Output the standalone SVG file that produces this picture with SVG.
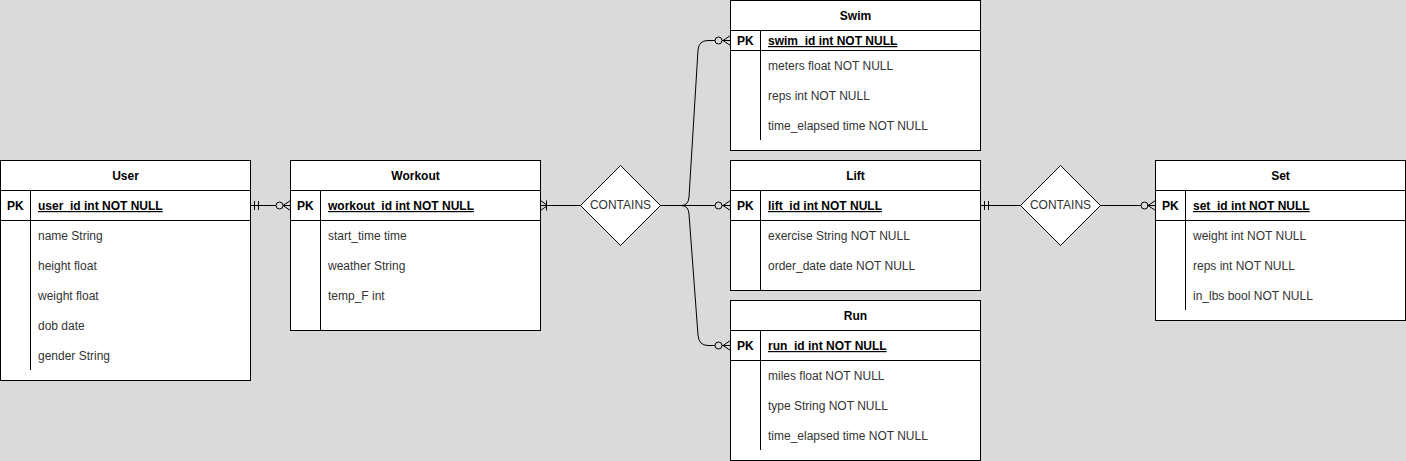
<svg xmlns="http://www.w3.org/2000/svg" width="1406" height="461" viewBox="0 0 1406 461">
<style>
.box{fill:#fff;stroke:#000;stroke-width:1}
.ln{fill:none;stroke:#000;stroke-width:1}
.t{font-family:"Liberation Sans",Arial,sans-serif;font-size:12px;fill:#000}
.b{font-weight:bold}
.c{text-anchor:middle}
.u{text-decoration:underline}
.a{fill:#333}
</style>
<rect x="0" y="0" width="1406" height="461" fill="#dadada"/>

<g id="user">
<rect class="box" x="0.5" y="160.5" width="250" height="220"/>
<line class="ln" x1="0.5" y1="190.5" x2="250.5" y2="190.5"/>
<line class="ln" x1="0.5" y1="220.5" x2="250.5" y2="220.5"/>
<line class="ln" x1="30.5" y1="190.5" x2="30.5" y2="370"/>
<text class="t b c" x="125.5" y="180">User</text>
<text class="t b" x="7" y="210">PK</text>
<text class="t b u" x="38" y="210">user_id int NOT NULL</text>
<text class="t a" x="38" y="240">name String</text>
<text class="t a" x="38" y="270">height float</text>
<text class="t a" x="38" y="300">weight float</text>
<text class="t a" x="38" y="330">dob date</text>
<text class="t a" x="38" y="360">gender String</text>
</g>

<g id="workout">
<rect class="box" x="290.5" y="160.5" width="250" height="170"/>
<line class="ln" x1="290.5" y1="190.5" x2="540.5" y2="190.5"/>
<line class="ln" x1="290.5" y1="220.5" x2="540.5" y2="220.5"/>
<line class="ln" x1="320.5" y1="190.5" x2="320.5" y2="330.5"/>
<text class="t b c" x="415.5" y="180">Workout</text>
<text class="t b" x="297" y="210">PK</text>
<text class="t b u" x="328" y="210">workout_id int NOT NULL</text>
<text class="t a" x="328" y="240">start_time time</text>
<text class="t a" x="328" y="270">weather String</text>
<text class="t a" x="328" y="300">temp_F int</text>
</g>

<g id="contains1">
<polygon class="box" points="620.5,165.5 660.5,205.5 620.5,245.5 580.5,205.5"/>
<text class="t c a" x="620.5" y="209">CONTAINS</text>
</g>

<g id="swim">
<rect class="box" x="730.5" y="0.5" width="250" height="150"/>
<line class="ln" x1="730.5" y1="30.5" x2="980.5" y2="30.5"/>
<line class="ln" x1="730.5" y1="50.5" x2="980.5" y2="50.5"/>
<line class="ln" x1="760.5" y1="30.5" x2="760.5" y2="140"/>
<text class="t b c" x="855.5" y="20">Swim</text>
<text class="t b" x="737" y="45">PK</text>
<text class="t b u" x="768" y="45">swim_id int NOT NULL</text>
<text class="t a" x="768" y="70">meters float NOT NULL</text>
<text class="t a" x="768" y="100">reps int NOT NULL</text>
<text class="t a" x="768" y="130">time_elapsed time NOT NULL</text>
</g>

<g id="lift">
<rect class="box" x="730.5" y="160.5" width="250" height="130"/>
<line class="ln" x1="730.5" y1="190.5" x2="980.5" y2="190.5"/>
<line class="ln" x1="730.5" y1="220.5" x2="980.5" y2="220.5"/>
<line class="ln" x1="760.5" y1="190.5" x2="760.5" y2="290.5"/>
<text class="t b c" x="855.5" y="180">Lift</text>
<text class="t b" x="737" y="210">PK</text>
<text class="t b u" x="768" y="210">lift_id int NOT NULL</text>
<text class="t a" x="768" y="240">exercise String NOT NULL</text>
<text class="t a" x="768" y="270">order_date date NOT NULL</text>
</g>

<g id="run">
<rect class="box" x="730.5" y="300.5" width="250" height="160"/>
<line class="ln" x1="730.5" y1="330.5" x2="980.5" y2="330.5"/>
<line class="ln" x1="730.5" y1="360.5" x2="980.5" y2="360.5"/>
<line class="ln" x1="760.5" y1="330.5" x2="760.5" y2="450"/>
<text class="t b c" x="855.5" y="320">Run</text>
<text class="t b" x="737" y="350">PK</text>
<text class="t b u" x="768" y="350">run_id int NOT NULL</text>
<text class="t a" x="768" y="380">miles float NOT NULL</text>
<text class="t a" x="768" y="410">type String NOT NULL</text>
<text class="t a" x="768" y="440">time_elapsed time NOT NULL</text>
</g>

<g id="contains2">
<polygon class="box" points="1060.5,165.5 1100.5,205.5 1060.5,245.5 1020.5,205.5"/>
<text class="t c a" x="1060.5" y="209">CONTAINS</text>
</g>

<g id="set">
<rect class="box" x="1155.5" y="160.5" width="250" height="160"/>
<line class="ln" x1="1155.5" y1="190.5" x2="1405.5" y2="190.5"/>
<line class="ln" x1="1155.5" y1="220.5" x2="1405.5" y2="220.5"/>
<line class="ln" x1="1185.5" y1="190.5" x2="1185.5" y2="310"/>
<text class="t b c" x="1280.5" y="180">Set</text>
<text class="t b" x="1162" y="210">PK</text>
<text class="t b u" x="1193" y="210">set_id int NOT NULL</text>
<text class="t a" x="1193" y="240">weight int NOT NULL</text>
<text class="t a" x="1193" y="270">reps int NOT NULL</text>
<text class="t a" x="1193" y="300">in_lbs bool NOT NULL</text>
</g>

<g id="connectors" class="ln">
<!-- User - Workout -->
<path class="ln" d="M250.5,205.5 L276,205.5"/>
<path class="ln" d="M254.5,201 V210 M258.5,201 V210"/>
<circle class="ln" cx="279.5" cy="205.5" r="3.5"/>
<path class="ln" d="M290.5,200.5 L283,205.5 L290.5,210.5 M283,205.5 H290.5"/>
<!-- Workout - Contains1 -->
<path class="ln" d="M540.5,205.5 L580.5,205.5"/>
<path class="ln" d="M540.5,200.5 L547.5,205.5 L540.5,210.5 M546.5,200.5 V210.5"/>
<!-- Contains1 - Swim -->
<path class="ln" d="M660.5,205.5 H681 Q688.5,205.5 689,197 L698,50 Q698.8,40.5 708,40.5 H715"/>
<circle class="ln" cx="718.5" cy="40.5" r="3.5"/>
<path class="ln" d="M730.5,35.5 L723,40.5 L730.5,45.5 M722,40.5 H730.5"/>
<!-- Contains1 - Lift -->
<path class="ln" d="M660.5,205.5 H715"/>
<circle class="ln" cx="718.5" cy="205.5" r="3.5"/>
<path class="ln" d="M730.5,200.5 L723,205.5 L730.5,210.5 M722,205.5 H730.5"/>
<!-- Contains1 - Run -->
<path class="ln" d="M660.5,205.5 H681 Q688.5,205.5 689,214 L698,335 Q698.8,345.5 708,345.5 H715"/>
<circle class="ln" cx="718.5" cy="345.5" r="3.5"/>
<path class="ln" d="M730.5,340.5 L723,345.5 L730.5,350.5 M722,345.5 H730.5"/>
<!-- Lift - Contains2 -->
<path class="ln" d="M980.5,205.5 L1020.5,205.5"/>
<path class="ln" d="M984.5,201 V210 M988.5,201 V210"/>
<!-- Contains2 - Set -->
<path class="ln" d="M1100.5,205.5 H1141"/>
<circle class="ln" cx="1144.5" cy="205.5" r="3.5"/>
<path class="ln" d="M1155.5,200.5 L1148,205.5 L1155.5,210.5 M1147,205.5 H1155.5"/>
</g>
</svg>
